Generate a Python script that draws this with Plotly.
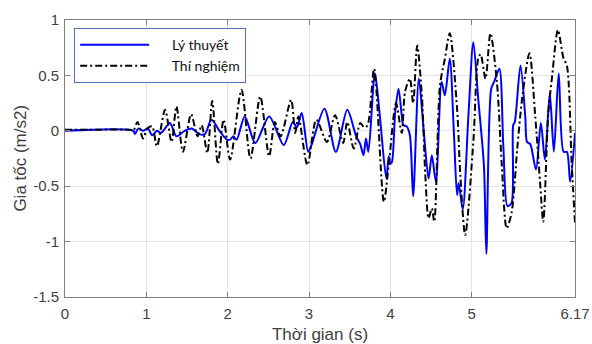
import plotly.graph_objects as go

# Experimental (Thí nghiệm)
t_exp = [0, 0.4, 0.8, 0.84, 0.89, 0.96, 1.01, 1.07, 1.13, 1.23, 1.31, 1.37, 1.45, 1.55, 1.63, 1.68,
         1.75, 1.81, 1.88, 1.95, 2.03, 2.17, 2.28, 2.40, 2.51, 2.58, 2.65, 2.78, 2.83, 2.87, 2.98,
         3.09, 3.22, 3.32, 3.42, 3.47, 3.55, 3.63, 3.68, 3.72, 3.80, 3.92, 3.98, 4.07, 4.14, 4.18,
         4.24, 4.28, 4.33, 4.39, 4.43, 4.47, 4.51, 4.54, 4.61, 4.67, 4.73, 4.82, 4.86, 4.92, 5.02,
         5.08, 5.11, 5.17, 5.23, 5.31, 5.37, 5.43, 5.49, 5.56, 5.62, 5.71, 5.78, 5.84, 5.88, 5.94,
         5.99, 6.06, 6.13, 6.17, 6.23, 6.27]
a_exp = [0.01, 0.01, 0.01, 0.0, 0.08, -0.07, 0.02, 0.04, -0.14, 0.19, -0.10, 0.22, -0.19, 0.15, -0.05, 0.05,
         -0.20, 0.27, -0.30, 0.10, -0.26, 0.37, -0.25, 0.31, -0.23, 0.08, -0.05, 0.28, -0.02, 0.13, -0.31,
         0.10, -0.10, 0.14, -0.11, 0.08, -0.16, 0.07, 0.03, 0.05, 0.56, -0.64, -0.31, 0.25, -0.02, 0.35,
         0.47, 0.25, 0.77, 0.29, -0.40, -0.79, -0.70, -0.82, 0.41, 0.65, 0.88, 0.20, -0.40, -0.94, -0.10,
         0.65, 0.69, 0.47, 0.88, 0.44, -0.31, -0.88, -0.74, -0.16, 0.29, 0.70, 0.14, -0.46, -0.82, 0.14,
         0.50, 0.91, 0.65, 0.59, -0.31, -0.83]

# Theory (Lý thuyết)
t_th = [0, 0.84, 0.86, 0.90, 0.96, 1.02, 1.07, 1.13, 1.18, 1.29, 1.37, 1.47, 1.56, 1.65, 1.72, 1.80,
        1.90, 1.99, 2.03, 2.07, 2.11, 2.21, 2.34, 2.51, 2.69, 2.80, 2.85, 2.91, 2.99, 3.03, 3.19,
        3.33, 3.47, 3.58, 3.63, 3.67, 3.70, 3.73, 3.81, 3.87, 3.95, 3.98, 4.00, 4.02, 4.06, 4.10,
        4.14, 4.16, 4.20, 4.24, 4.28, 4.35, 4.41, 4.47, 4.51, 4.56, 4.63, 4.67, 4.73, 4.78, 4.82,
        4.84, 4.89, 4.96, 5.02, 5.08, 5.15, 5.18, 5.24, 5.28, 5.34, 5.39, 5.44, 5.49, 5.51, 5.53,
        5.60, 5.66, 5.68, 5.72, 5.79, 5.85, 5.90, 5.96, 6.01, 6.07, 6.13, 6.17, 6.21, 6.27]
a_th = [0.0, 0.0, -0.03, 0.02, 0.0, 0.02, -0.04, 0.0, -0.02, 0.07, -0.05, 0.0, 0.02, -0.03, -0.03, 0.10,
        0.0, -0.08, -0.08, -0.05, -0.08, 0.13, -0.11, 0.13, -0.13, 0.08, 0.03, 0.16, -0.19, -0.13, 0.20,
        -0.19, 0.19, -0.05, -0.12, -0.22, -0.07, -0.19, 0.52, 0.14, -0.43, -0.23, -0.30, -0.28, 0.17, 0.38,
        0.14, 0.05, 0.04, -0.04, -0.59, 0.47, 0.0, -0.43, -0.22, -0.46, 0.44, 0.32, 0.65, 0.0, -0.58,
        -0.47, -0.71, 0.14, 0.80, 0.29, -0.31, -1.11, 0.38, 0.45, 0.56, -0.16, -0.68, -0.65, 0.05, 0.08,
        0.59, 0.11, -0.10, -0.12, -0.35, 0.07, -0.26, 0.34, -0.19, 0.52, -0.19, -0.19, -0.46, -0.02]

x_tickvals = [0, 1, 2, 3, 4, 5, 6.27]
x_ticktext = ["0", "1", "2", "3", "4", "5", "6.17"]
y_tickvals = [-1.5, -1, -0.5, 0, 0.5, 1]
y_ticktext = ["-1.5", "-1", "-0.5", "0", "0.5", "1"]

pad = "\u00a0" * 5

fig = go.Figure()
fig.add_trace(go.Scatter(x=t_th, y=a_th, mode="lines", name=pad + "Lý thuyết",
                         line=dict(color="#0000ff", width=2, shape="spline", smoothing=0.8)))
fig.add_trace(go.Scatter(x=t_exp, y=a_exp, mode="lines", name=pad + "Thí nghiệm",
                         line=dict(color="#000000", width=2, dash="7px,3px,2px,3px", shape="spline", smoothing=0.8)))

axis_common = dict(showgrid=True, gridcolor="#e3e3e3", gridwidth=1, showline=True, linecolor="#7f7f7f",
                   linewidth=1, mirror="ticks", ticks="inside", ticklen=5, tickcolor="#7f7f7f",
                   zeroline=False, automargin=False,
                   tickfont=dict(family="Liberation Sans, Arial", size=15, color="#404040"))

fig.update_layout(
    width=592, height=344,
    margin=dict(l=65, r=17, t=20, b=47),
    paper_bgcolor="white", plot_bgcolor="white",
    showlegend=True,
    legend=dict(x=0.018, y=0.971, xanchor="left", yanchor="top", bgcolor="white",
                bordercolor="#4f74b8", borderwidth=1, itemwidth=69, tracegroupgap=0,
                font=dict(family="Lato, Open Sans", size=14, color="#111111")),
    xaxis=dict(range=[0, 6.27], tickvals=x_tickvals, ticktext=x_ticktext, ticklabelstandoff=3,
               title=dict(text="Thời gian (s)", font=dict(family="Liberation Sans, Arial", size=17, color="#404040")),
               **axis_common),
    yaxis=dict(range=[-1.5, 1], tickvals=y_tickvals, ticktext=y_ticktext, ticklabelstandoff=2,
               **axis_common),
    annotations=[dict(text="Gia tốc (m/s2)", textangle=-90, xref="paper", yref="paper",
                      x=-0.088, y=0.5, xanchor="center", yanchor="middle", showarrow=False,
                      font=dict(family="Liberation Sans, Arial", size=17, color="#404040"))],
)

fig.write_html("out.html")
